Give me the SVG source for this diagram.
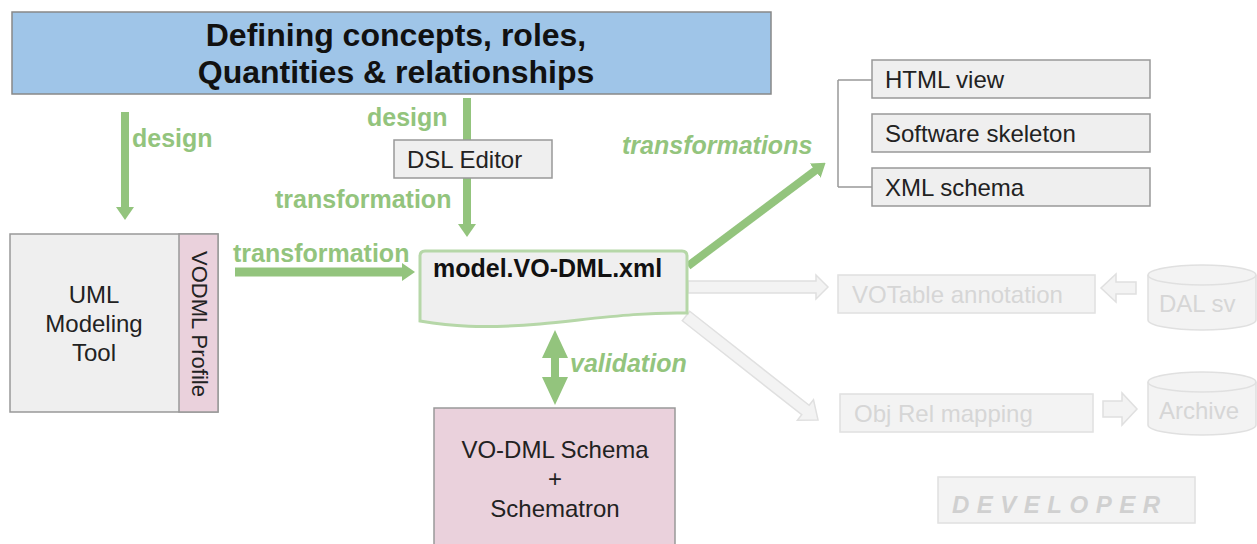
<svg xmlns="http://www.w3.org/2000/svg" width="1257" height="544" viewBox="0 0 1257 544">
<defs>
<style>
.box{fill:#efefef;stroke:#999;stroke-width:1.5}
.pink{fill:#ead1dc;stroke:#999;stroke-width:1.5}
.faint{fill:#f3f3f3;stroke:#e0e0e0;stroke-width:1.5}
.t{font-family:"Liberation Sans",Arial,sans-serif;font-size:24px;fill:#222}
.tf{font-family:"Liberation Sans",Arial,sans-serif;font-size:24px;fill:#d6d6d6}
.g{font-family:"Liberation Sans",Arial,sans-serif;font-size:25px;font-weight:bold;fill:#93c47d}
.gi{font-style:italic}
.ga{stroke:#93c47d;fill:none}
</style>
<marker id="ah" markerUnits="userSpaceOnUse" viewBox="0 0 13 18" markerWidth="13" markerHeight="18" refX="1" refY="9" orient="auto">
<path d="M0,0 L13,9 L0,18 Z" fill="#93c47d"/>
</marker>
</defs>

<g id="connectors">
<line class="ga" x1="125" y1="112" x2="125" y2="208" stroke-width="8" marker-end="url(#ah)"/>
<line class="ga" x1="467" y1="98" x2="467" y2="145" stroke-width="8"/>
<line class="ga" x1="467" y1="176" x2="467" y2="225" stroke-width="8" marker-end="url(#ah)"/>
<line class="ga" x1="235" y1="272" x2="403" y2="272" stroke-width="9" marker-end="url(#ah)"/>
<line class="ga" x1="688" y1="266" x2="816" y2="170" stroke-width="8" marker-end="url(#ah)"/>
<path d="M555,330 L568,358 L559,358 L559,377 L568,377 L555,405 L542,377 L551,377 L551,358 L542,358 Z" fill="#93c47d"/>
<path d="M838,80 H872 M838,80 V187 M838,187 H872" stroke="#999" stroke-width="1.5" fill="none"/>
<path class="faint" d="M688,281 H816 V275 L828,287 L816,299 V293 H688 Z"/>
<path class="faint" transform="translate(686,316) rotate(38.2)" d="M0,-6 H152 V-13 L168,0 L152,13 V6 H0 Z"/>
<path class="faint" d="M1136,282 H1116 V274 L1101,288 L1116,302 V294 H1136 Z"/>
<path class="faint" d="M1103,401 H1122 V393 L1137,409 L1122,425 V417 H1103 Z"/>
</g>

<g id="title">
<rect x="12" y="12" width="759" height="82" fill="#9fc5e8" stroke="#888" stroke-width="1.5"/>
<text class="t" x="396" y="46" text-anchor="middle" style="font-size:32px;font-weight:bold;fill:#111">Defining concepts, roles,</text>
<text class="t" x="396" y="83" text-anchor="middle" style="font-size:32px;font-weight:bold;fill:#111">Quantities &amp; relationships</text>
</g>

<g id="labels">
<text class="g" x="132" y="147">design</text>
<text class="g" x="367" y="126">design</text>
<text class="g" x="275" y="208">transformation</text>
<text class="g" x="233" y="262">transformation</text>
<text class="g gi" x="622" y="154">transformations</text>
<text class="g gi" x="570" y="372">validation</text>
</g>

<g id="dsl-editor">
<rect class="box" x="394" y="140" width="158" height="38"/>
<text class="t" x="407" y="168">DSL Editor</text>
</g>

<g id="uml-tool">
<rect class="box" x="10" y="234" width="208" height="178"/>
<rect class="pink" x="179" y="234" width="39" height="178"/>
<text class="t" x="94" y="303" text-anchor="middle">UML</text>
<text class="t" x="94" y="332" text-anchor="middle">Modeling</text>
<text class="t" x="94" y="361" text-anchor="middle">Tool</text>
<text class="t" x="0" y="0" text-anchor="middle" transform="translate(192,324) rotate(90)" style="font-size:22px">VODML Profile</text>
</g>

<g id="model-xml">
<path d="M420,256 Q420,251 425,251 H682 Q687,251 687,256 V313 C640,312 600,318 540,324 C480,329 450,326 420,321 Z" fill="#efefef" stroke="#b6d7a8" stroke-width="3"/>
<text class="t" x="433" y="277" style="font-weight:bold;font-size:25px;fill:#111">model.VO-DML.xml</text>
</g>

<g id="schema">
<rect class="pink" x="434" y="408" width="241" height="145"/>
<text class="t" x="555" y="458" text-anchor="middle">VO-DML Schema</text>
<text class="t" x="555" y="487" text-anchor="middle">+</text>
<text class="t" x="555" y="517" text-anchor="middle">Schematron</text>
</g>

<g id="html-view">
<rect class="box" x="872" y="60" width="278" height="38"/>
<text class="t" x="885" y="88">HTML view</text>
</g>
<g id="software-skeleton">
<rect class="box" x="872" y="114" width="278" height="38"/>
<text class="t" x="885" y="142">Software skeleton</text>
</g>
<g id="xml-schema">
<rect class="box" x="872" y="168" width="278" height="38"/>
<text class="t" x="885" y="196">XML schema</text>
</g>

<g id="votable">
<rect class="faint" x="838" y="275" width="257" height="38"/>
<text class="tf" x="852" y="303">VOTable annotation</text>
</g>
<g id="objrel">
<rect class="faint" x="840" y="394" width="253" height="38"/>
<text class="tf" x="854" y="422">Obj Rel mapping</text>
</g>

<g id="dal-sv">
<path class="faint" d="M1148,275 V320 A54,10 0 0 0 1256,320 V275"/>
<ellipse class="faint" cx="1202" cy="275" rx="54" ry="10"/>
<text class="tf" x="1159" y="312">DAL sv</text>
</g>
<g id="archive">
<path class="faint" d="M1148,382 V425 A54,10 0 0 0 1256,425 V382"/>
<ellipse class="faint" cx="1202" cy="382" rx="54" ry="10"/>
<text class="tf" x="1159" y="419">Archive</text>
</g>

<g id="developer">
<rect class="faint" x="938" y="477" width="257" height="46"/>
<text class="tf" x="952" y="513" style="font-weight:bold;font-style:italic;letter-spacing:7.5px;fill:#d0d0d0">DEVELOPER</text>
</g>
</svg>
